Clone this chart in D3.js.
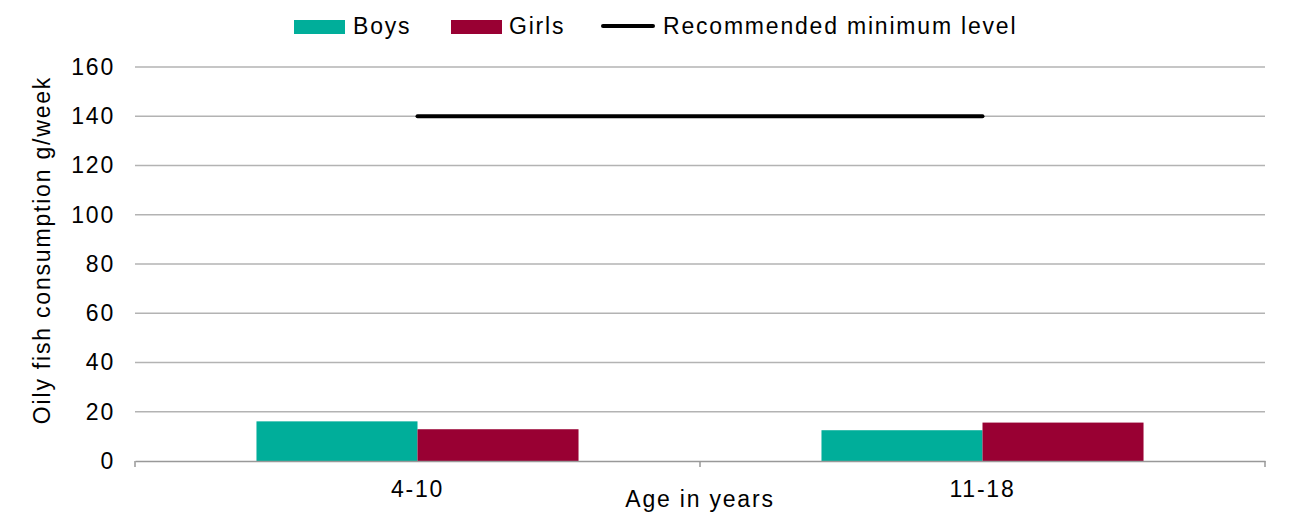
<!DOCTYPE html>
<html>
<head>
<meta charset="utf-8">
<script src="https://cdn.jsdelivr.net/npm/d3@7"></script>
<style>
  body { margin: 0; background: #fff; }
  svg { font-family: "Liberation Sans", Arial, sans-serif; }
  svg text { letter-spacing: 1.8px; }
</style>
</head>
<body>
<svg id="chart" width="1291" height="514"></svg>
<script>
// Oily fish consumption by age group and sex
const ageGroups = ["4-10", "11-18"];
const seriesNames = ["Boys", "Girls"];
const boysValues = [16.1, 12.5];
const girlsValues = [12.9, 15.6];
const recommendedLevel = 140;
const yTicks = [0, 20, 40, 60, 80, 100, 120, 140, 160];

const colors = { Boys: "#00AE9A", Girls: "#990033" };
const FONT = "'Liberation Sans', Arial, sans-serif";
const FS = 23;

const svg = d3.select("#chart");
const margin = { left: 135, right: 26, top: 67, bottom: 53 };
const width = 1291, height = 514;
const plotW = width - margin.left - margin.right;
const plotH = height - margin.top - margin.bottom;

const g = svg.append("g").attr("transform", `translate(${margin.left},${margin.top})`);

const x0 = d3.scaleBand().domain(ageGroups).range([0, plotW]).padding(0);
const step = x0.bandwidth();
const x1 = d3.scaleBand().domain(seriesNames).range([step * 0.215, step * 0.785]).padding(0);
const y = d3.scaleLinear().domain([0, 160]).range([plotH, 0]);

// Horizontal gridlines
g.append("g")
  .selectAll("line")
  .data(yTicks.filter(t => t > 0))
  .join("line")
  .attr("x1", 0).attr("x2", plotW)
  .attr("y1", d => y(d)).attr("y2", d => y(d))
  .attr("stroke", "#b3b3b3").attr("stroke-width", 1.3);

// Y axis labels
const yAxis = g.append("g").call(d3.axisLeft(y).tickValues(yTicks).tickSize(0).tickPadding(20));
yAxis.select(".domain").remove();
yAxis.selectAll("text").attr("font-size", FS).attr("fill", "#000").attr("font-family", FONT);

// Bars
const rows = ageGroups.map((a, i) => ({ age: a, Boys: boysValues[i], Girls: girlsValues[i] }));
g.append("g")
  .selectAll("g")
  .data(rows)
  .join("g")
  .attr("transform", d => `translate(${x0(d.age)},0)`)
  .selectAll("rect")
  .data(d => seriesNames.map(k => ({ key: k, value: d[k] })))
  .join("rect")
  .attr("x", d => x1(d.key))
  .attr("width", x1.bandwidth())
  .attr("y", d => y(d.value))
  .attr("height", d => y(0) - y(d.value))
  .attr("fill", d => colors[d.key]);

// X axis
const xAxis = g.append("g").attr("transform", `translate(0,${plotH})`)
  .call(d3.axisBottom(x0).tickSize(0).tickPadding(20));
xAxis.select(".domain").attr("stroke", "#999").attr("stroke-width", 1.5);
xAxis.selectAll("text").attr("font-size", FS).attr("fill", "#000").attr("font-family", FONT);
// Category boundary ticks
g.append("g")
  .selectAll("line")
  .data([0, 1, 2])
  .join("line")
  .attr("x1", d => d * step).attr("x2", d => d * step)
  .attr("y1", plotH).attr("y2", plotH + 6)
  .attr("stroke", "#999").attr("stroke-width", 1.5);

// Recommended minimum level line
g.append("line")
  .attr("x1", x0(ageGroups[0]) + step / 2)
  .attr("x2", x0(ageGroups[1]) + step / 2)
  .attr("y1", y(recommendedLevel)).attr("y2", y(recommendedLevel))
  .attr("stroke", "#000").attr("stroke-width", 4).attr("stroke-linecap", "round");

// Axis titles
svg.append("text")
  .attr("x", margin.left + plotW / 2).attr("y", 507)
  .attr("text-anchor", "middle").attr("font-size", FS)
  .text("Age in years");
svg.append("text")
  .attr("transform", `translate(50,250) rotate(-90)`)
  .attr("text-anchor", "middle").attr("font-size", FS)
  .text("Oily fish consumption g/week");

// Legend
const legend = svg.append("g");
const legendItems = [
  { name: "Boys", type: "rect", x: 294, tx: 353 },
  { name: "Girls", type: "rect", x: 451, tx: 509 },
  { name: "Recommended minimum level", type: "line", x: 601, tx: 663 }
];
legendItems.forEach(item => {
  if (item.type === "rect") {
    legend.append("rect").attr("x", item.x).attr("y", 20).attr("width", 51).attr("height", 14)
      .attr("fill", colors[item.name]);
  } else {
    legend.append("line").attr("x1", item.x + 2).attr("x2", item.x + 52)
      .attr("y1", 26).attr("y2", 26)
      .attr("stroke", "#000").attr("stroke-width", 4).attr("stroke-linecap", "round");
  }
  legend.append("text").attr("x", item.tx).attr("y", 33.5)
    .attr("font-size", FS).text(item.name);
});
</script>
</body>
</html>
